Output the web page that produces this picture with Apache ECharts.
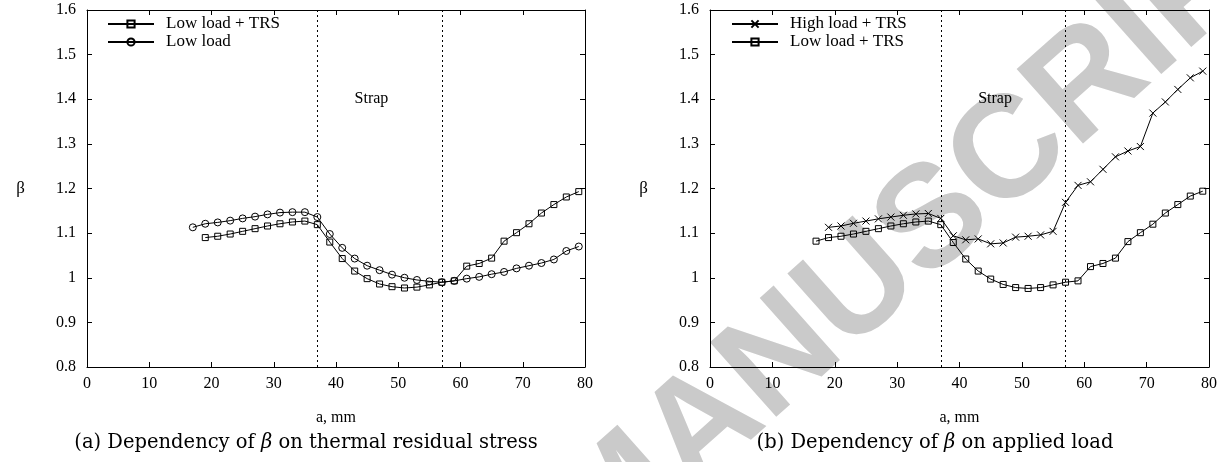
<!DOCTYPE html>
<html>
<head>
<meta charset="utf-8">
<title>Dependency of β</title>
<script src="https://cdn.jsdelivr.net/npm/echarts@6/dist/echarts.min.js"></script>
<style>
  html, body { margin: 0; padding: 0; background: #fff; }
  #chart { width: 1227px; height: 462px; }
</style>
</head>
<body>
<div id="chart"></div>
<script>
// Crack length a (mm) and correction factor beta for each configuration

// (a) thermal residual stress
const aLowTrsA = [19, 21, 23, 25, 27, 29, 31, 33, 35, 37, 39, 41, 43, 45, 47, 49, 51, 53, 55, 57, 59, 61, 63, 65, 67, 69, 71, 73, 75, 77, 79];
const betaLowTrsA = [1.090, 1.093, 1.098, 1.104, 1.110, 1.116, 1.121, 1.125, 1.127, 1.119, 1.080, 1.043, 1.015, 0.998, 0.986, 0.980, 0.977, 0.979, 0.984, 0.990, 0.993, 1.026, 1.032, 1.044, 1.082, 1.101, 1.121, 1.145, 1.164, 1.181, 1.193];

const aLowA = [17, 19, 21, 23, 25, 27, 29, 31, 33, 35, 37, 39, 41, 43, 45, 47, 49, 51, 53, 55, 57, 59, 61, 63, 65, 67, 69, 71, 73, 75, 77, 79];
const betaLowA = [1.113, 1.121, 1.124, 1.128, 1.133, 1.137, 1.142, 1.146, 1.147, 1.147, 1.136, 1.098, 1.067, 1.043, 1.027, 1.017, 1.007, 1.000, 0.995, 0.992, 0.990, 0.993, 0.998, 1.002, 1.008, 1.013, 1.021, 1.027, 1.033, 1.041, 1.060, 1.070];

// (b) applied load
const aHighTrsB = [19, 21, 23, 25, 27, 29, 31, 33, 35, 37, 39, 41, 43, 45, 47, 49, 51, 53, 55, 57, 59, 61, 63, 65, 67, 69, 71, 73, 75, 77, 79];
const betaHighTrsB = [1.113, 1.116, 1.122, 1.127, 1.132, 1.136, 1.140, 1.143, 1.144, 1.133, 1.094, 1.085, 1.087, 1.076, 1.078, 1.091, 1.093, 1.096, 1.104, 1.169, 1.207, 1.215, 1.243, 1.271, 1.284, 1.294, 1.369, 1.394, 1.422, 1.448, 1.463];

const aLowTrsB = [17, 19, 21, 23, 25, 27, 29, 31, 33, 35, 37, 39, 41, 43, 45, 47, 49, 51, 53, 55, 57, 59, 61, 63, 65, 67, 69, 71, 73, 75, 77, 79];
const betaLowTrsB = [1.082, 1.090, 1.093, 1.098, 1.104, 1.110, 1.116, 1.121, 1.125, 1.127, 1.119, 1.079, 1.042, 1.015, 0.997, 0.985, 0.978, 0.976, 0.978, 0.984, 0.990, 0.993, 1.025, 1.032, 1.044, 1.081, 1.101, 1.120, 1.145, 1.164, 1.183, 1.194];

// Strap edges (mm) and label anchor
const strapEdges = [37, 57];
const strapLabel = { text: 'Strap', a: 45.7, beta: 1.40 };

const xRange = { min: 0, max: 80, interval: 10 };
const yRange = { min: 0.8, max: 1.6, interval: 0.1 };

const names = {
  lowTrs: 'Low load + TRS',
  low: 'Low load',
  highTrs: 'High load + TRS'
};
const captions = [
  ['(a) Dependency of ', 'β', ' on thermal residual stress'],
  ['(b) Dependency of ', 'β', ' on applied load']
];

const zip = (xs, ys) => xs.map((x, i) => [x, ys[i]]);

const SERIF = '"Liberation Serif", "Times New Roman", serif';
const CAPTION_FONT = '"DejaVu Serif", serif';
const INK = '#000';

const SYM = {
  square: 'rect',
  circle: 'circle',
  cross: 'path://M0,0L1,1M1,0L0,1'
};

function xAxes(gridIndex) {
  const base = {
    type: 'value', gridIndex, min: xRange.min, max: xRange.max, interval: xRange.interval,
    splitLine: { show: false },
    axisLine: { show: true, onZero: false, lineStyle: { color: INK, width: 1 } },
    axisTick: { show: true, inside: true, length: 5, lineStyle: { color: INK } }
  };
  return [
    Object.assign({}, base, {
      position: 'bottom',
      axisLabel: { color: INK, fontFamily: SERIF, fontSize: 16, margin: 9 },
      name: 'a, mm', nameLocation: 'middle', nameGap: 43,
      nameTextStyle: { color: INK, fontFamily: SERIF, fontSize: 16 }
    }),
    Object.assign({}, base, { position: 'top', axisLabel: { show: false } })
  ];
}

function yAxes(gridIndex) {
  const base = {
    type: 'value', gridIndex, min: yRange.min, max: yRange.max, interval: yRange.interval,
    splitLine: { show: false },
    axisLine: { show: true, onZero: false, lineStyle: { color: INK, width: 1 } },
    axisTick: { show: true, inside: true, length: 5, lineStyle: { color: INK } }
  };
  return [
    Object.assign({}, base, {
      position: 'left',
      axisLabel: { color: INK, fontFamily: SERIF, fontSize: 16, margin: 11 },
      name: 'β', nameLocation: 'middle', nameGap: 62, nameRotate: 0,
      nameTextStyle: { color: INK, fontFamily: SERIF, fontSize: 17 }
    }),
    Object.assign({}, base, { position: 'right', axisLabel: { show: false } })
  ];
}

function lineSeries(name, data, symbol, size, axisIdx, extra) {
  return Object.assign({
    type: 'line', name, data,
    xAxisIndex: axisIdx, yAxisIndex: axisIdx,
    symbol, symbolSize: size, showAllSymbol: true,
    lineStyle: { color: INK, width: 1 },
    itemStyle: { color: 'rgba(0,0,0,0)', borderColor: INK, borderWidth: 1 },
    emphasis: { disabled: true },
    z: 5
  }, extra || {});
}

function strapMarks() {
  return {
    markLine: {
      silent: true, symbol: ['none', 'none'],
      label: { show: false },
      lineStyle: { color: INK, width: 1, type: [2, 3] },
      data: strapEdges.map(v => ({ xAxis: v }))
    },
    markPoint: {
      silent: true, symbol: 'circle', symbolSize: 0,
      itemStyle: { color: 'rgba(0,0,0,0)' },
      label: { show: true, position: 'inside', formatter: strapLabel.text, color: INK, fontFamily: SERIF, fontSize: 16 },
      data: [{ coord: [strapLabel.a, strapLabel.beta] }]
    }
  };
}

function legend(left, data) {
  return {
    left, top: 15, orient: 'vertical', padding: 0,
    itemWidth: 46, itemHeight: 9, itemGap: 0,
    selectedMode: false,
    textStyle: { color: INK, fontFamily: SERIF, fontSize: 17, padding: [0, 0, 0, 7], lineHeight: 18 },
    data
  };
}

function caption(x, parts) {
  return {
    type: 'text', x, y: 443, z: 10,
    style: {
      text: '{n|' + parts[0] + '}{i|' + parts[1] + '}{n|' + parts[2] + '}',
      align: 'center', verticalAlign: 'middle',
      rich: {
        n: { fontFamily: CAPTION_FONT, fontSize: 19.5, fill: INK },
        i: { fontFamily: CAPTION_FONT, fontSize: 19.5, fontStyle: 'italic', fill: INK }
      }
    }
  };
}

const chart = echarts.init(document.getElementById('chart'), null, { renderer: 'canvas' });

chart.setOption({
  animation: false,
  backgroundColor: '#fff',
  grid: [
    { left: 87, top: 10, width: 498, height: 357 },
    { left: 710, top: 10, width: 499, height: 357 }
  ],
  xAxis: [...xAxes(0), ...xAxes(1)],
  yAxis: [...yAxes(0), ...yAxes(1)],
  legend: [
    legend(107, [names.lowTrs, names.low]),
    legend(731, [names.highTrs, names.lowTrs])
  ],
  series: [
    lineSeries(names.lowTrs, zip(aLowTrsA, betaLowTrsA), SYM.square, 6, 0, strapMarks()),
    lineSeries(names.low, zip(aLowA, betaLowA), SYM.circle, 7, 0),
    lineSeries(names.highTrs, zip(aHighTrsB, betaHighTrsB), SYM.cross, 7, 2, strapMarks()),
    lineSeries(names.lowTrs, zip(aLowTrsB, betaLowTrsB), SYM.square, 6, 2)
  ],
  graphic: [
    {
      type: 'text', x: 935, y: 222, z: -10, rotation: 41.7 * Math.PI / 180,
      silent: true,
      style: {
        text: 'MANUSCRIPT', align: 'center', verticalAlign: 'middle',
        fontFamily: '"Liberation Sans", Arial, sans-serif', fontWeight: 'bold', fontSize: 145,
        fill: '#cacaca'
      }
    },
    caption(306, captions[0]),
    caption(935, captions[1])
  ]
});
</script>
</body>
</html>
